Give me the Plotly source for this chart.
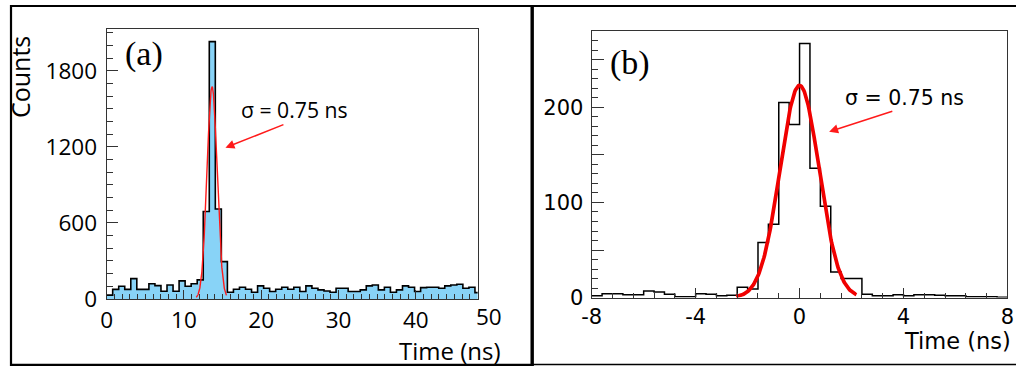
import math
import plotly.graph_objects as go

# Page size (body margin removed by post_script)
W, H = 1023, 382
# Observed page -> picture mapping of the viewer: X = SX*x + BX, Y = SY*y + BY
SX, BX = 0.98, 12.0
SY, BY = 0.961, 0.0

# ---------------- data: panel (a) ----------------
a_bin_start = 0.0
a_bin_width = 0.78125
a_counts = [30, 75, 100, 75, 160, 75, 75, 120, 105, 60, 110, 60, 142, 100, 120, 150,
            690, 2030, 710, 294,
            53, 76, 92, 76, 53, 103, 84, 58, 76, 92, 76, 92, 58, 103, 84, 71, 63, 53, 84, 84, 58,
            58, 71, 103, 110, 71, 92, 53, 71, 103, 92, 58, 89, 92, 92, 84, 103, 110, 116, 84, 92, 50]
a_fit_amp, a_fit_mean, a_fit_sigma = 1675.0, 13.64, 0.65
a_fit_range = (11.6, 15.5)
a_xticks = [0, 10, 20, 30, 40]
a_yticks = [0, 600, 1200, 1800]

# ---------------- data: panel (b) ----------------
b_bin_start = -8.0
b_bin_width = 0.4
b_counts = [2, 4, 4, 3, 3, 7, 6, 3.5, 1, 1, 4, 3.5, 2, 2.5, 11, 9,
            58, 77, 205, 182, 267, 136, 96, 27, 20, 20,
            3.5, 2, 2, 3, 2, 3, 3, 2.5, 2, 2, 1, 1, 1, 0.5]
b_fit_amp, b_fit_mean, b_fit_sigma = 223.0, 0.0, 0.75
b_fit_range = (-2.44, 2.19)
b_xticks = [-8, -4, 0, 4, 8]
b_xticktext = ["-8", "-4", "0", "4", "8"]
b_yticks = [0, 50, 100, 150, 200, 250]
b_yticktext = ["0", "", "100", "", "200", ""]


def step_xy(start, width, counts):
    xs = [start + i * width for i in range(len(counts) + 1)]
    ys = list(counts) + [counts[-1]]
    return xs, ys


def gauss_curve(amp, mean, sigma, lo, hi, n=200):
    xs = [lo + (hi - lo) * i / (n - 1) for i in range(n)]
    ys = [amp * math.exp(-0.5 * ((x - mean) / sigma) ** 2) for x in xs]
    return xs, ys


def pgx(X):
    return (X - BX) / SX


def pgy(Y):
    return (Y - BY) / SY


def px(X):
    return min(max(pgx(X) / W, 0.0), 1.0)


def py(Y):
    return min(max(1 - pgy(Y) / H, 0.0), 1.0)


fig = go.Figure()

ax_x, ax_y = step_xy(a_bin_start, a_bin_width, a_counts)
fig.add_trace(go.Scatter(x=ax_x, y=ax_y, mode="lines", line_shape="hv",
                         line=dict(color="black", width=1.6),
                         fill="tozeroy", fillcolor="#88d3f7",
                         xaxis="x", yaxis="y", showlegend=False, hoverinfo="skip"))
fx, fy = gauss_curve(a_fit_amp, a_fit_mean, a_fit_sigma, *a_fit_range)
fig.add_trace(go.Scatter(x=fx, y=fy, mode="lines", line=dict(color="#ff1a1a", width=1.4),
                         xaxis="x", yaxis="y", showlegend=False, hoverinfo="skip"))

bx, by = step_xy(b_bin_start, b_bin_width, b_counts)
fig.add_trace(go.Scatter(x=bx, y=by, mode="lines", line_shape="hv",
                         line=dict(color="black", width=1.5),
                         xaxis="x2", yaxis="y2", showlegend=False, hoverinfo="skip"))
gx, gy = gauss_curve(b_fit_amp, b_fit_mean, b_fit_sigma, *b_fit_range)
fig.add_trace(go.Scatter(x=gx, y=gy, mode="lines", line=dict(color="#f00000", width=3.7),
                         xaxis="x2", yaxis="y2", showlegend=False, hoverinfo="skip"))

tick_font_a = dict(family="Open Sans", size=22.5, color="black")
tick_font_b = dict(family="DejaVu Sans", size=21, color="black")
frame = dict(showline=True, linecolor="#333333", linewidth=1.2, mirror=True,
             showgrid=False, zeroline=False, ticks="inside", tickcolor="#333333")

fig.update_layout(
    width=W, height=H, autosize=False,
    margin=dict(l=0, r=0, t=0, b=0),
    paper_bgcolor="white", plot_bgcolor="white",
    xaxis=dict(domain=[px(108.3), px(478)], range=[0, 48], tickvals=a_xticks,
               ticklen=9, tickwidth=1.2, tickfont=tick_font_a, ticklabelstandoff=1,
               minor=dict(dtick=1, tick0=0, ticklen=5, ticks="inside", tickcolor="#333333"),
               anchor="y", **frame),
    yaxis=dict(domain=[py(299), py(29)], range=[0, 2130], tickvals=a_yticks,
               ticklen=11, tickwidth=1.2, tickfont=tick_font_a, ticklabelstandoff=4,
               minor=dict(dtick=100, tick0=0, ticklen=6, ticks="inside", tickcolor="#333333"),
               anchor="x", **frame),
    xaxis2=dict(domain=[px(591.7), px(1006)], range=[-8, 8], tickvals=b_xticks,
                ticktext=b_xticktext,
                ticklen=10, tickwidth=1.2, tickfont=tick_font_b, ticklabelstandoff=0,
                minor=dict(dtick=0.8, tick0=0, ticklen=5, ticks="inside", tickcolor="#333333"),
                anchor="y2", **frame),
    yaxis2=dict(domain=[py(297.7), py(30.7)], range=[0, 280.5], tickvals=b_yticks,
                ticktext=b_yticktext,
                ticklen=12, tickwidth=1.2, tickfont=tick_font_b, ticklabelstandoff=3,
                minor=dict(dtick=10, tick0=0, ticklen=6, ticks="inside", tickcolor="#333333"),
                anchor="x2", **frame),
)


def label(text, X, Y, size, family="Open Sans", xanchor="center", angle=0):
    return dict(text=text, x=px(X), y=py(Y), textangle=angle, showarrow=False,
                font=dict(family=family, size=size, color="black"),
                xref="paper", yref="paper", xanchor=xanchor, yanchor="middle")


def arrow(head, tail):
    return dict(text="", x=px(head[0]), y=py(head[1]),
                ax=(tail[0] - head[0]) / SX, ay=(tail[1] - head[1]) / SY,
                showarrow=True, arrowhead=2, arrowsize=1.2, arrowwidth=1.5,
                arrowcolor="#ff1a1a", xref="paper", yref="paper")


annos = [
    # panel (a)
    label("Counts", 22, 77, 25, angle=-90),
    label("Time (ns)", 503, 351, 24, xanchor="right"),
    label("50", 489, 316.7, 22.5),
    label("(a)", 146, 54, 34, family="Liberation Serif"),
    label("σ = 0.75 ns", 296, 110, 21.2),
    arrow((226.7, 147.7), (285, 125)),
    # panel (b)
    label("Time (ns)", 1011.7, 341, 22.5, family="DejaVu Sans", xanchor="right"),
    label("(b)", 630, 63, 34, family="Liberation Serif"),
    label("σ = 0.75 ns", 903, 98, 20.5, family="DejaVu Sans"),
    arrow((828.3, 131.7), (891.7, 111.7)),
]
fig.update_layout(annotations=annos)

# outer panel borders
fig.add_shape(type="rect", xref="paper", yref="paper",
              x0=px(13), x1=px(532), y0=py(365), y1=py(6),
              line=dict(color="black", width=2.2), layer="above")
fig.add_shape(type="line", xref="paper", yref="paper",
              x0=px(532.5), x1=px(532.5), y0=py(366), y1=py(5),
              line=dict(color="black", width=3.2), layer="above")
fig.add_shape(type="line", xref="paper", yref="paper",
              x0=px(532), x1=1, y0=py(6), y1=py(6),
              line=dict(color="black", width=2.2), layer="above")
fig.add_shape(type="line", xref="paper", yref="paper",
              x0=px(532), x1=1, y0=py(364.5), y1=py(364.5),
              line=dict(color="black", width=1.5), layer="above")

fig.write_html(
    "out.html",
    config={"displayModeBar": False},
    post_script="document.body.style.margin='0';document.body.style.overflow='hidden';",
)
